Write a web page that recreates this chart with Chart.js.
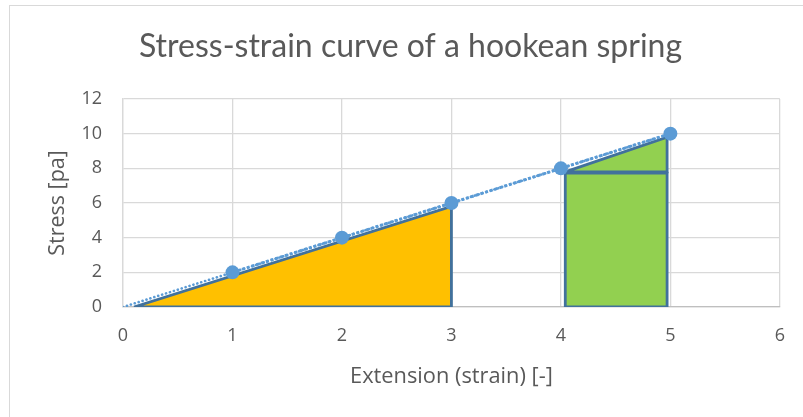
<!DOCTYPE html>
<html>
<head>
<meta charset="utf-8">
<script src="https://cdn.jsdelivr.net/npm/chart.js@4"></script>
<style>
  html, body { margin: 0; padding: 0; background: #fff; overflow: hidden; }
  #wrap { position: relative; width: 803px; height: 417px; }
  #frame { position: absolute; left: 9px; top: 5px; width: 810px; height: 430px;
           border: 1px solid #D9D9D9; pointer-events: none; }
</style>
</head>
<body>
<div id="wrap">
  <canvas id="chart" width="803" height="417"></canvas>
  <div id="frame"></div>
</div>
<script>
// Measured spring response: extension vs stress
const extension = [1, 2, 3, 4, 5];
const stress = [2, 4, 6, 8, 10];

// Linear trend line through the origin
const trendX = [0, 5];
const trendY = [0, 10];

// Work done stretching to 3 (triangle under the curve)
const workAX = [0.1, 3, 3, 0.1];
const workAY = [0, 5.8, 0, 0];

// Extra work from 4 to 5: rectangle plus triangle
const rectBX = [4.04, 4.04, 4.97, 4.97, 4.04];
const rectBY = [0, 7.72, 7.72, 0, 0];
const triBX = [4.04, 4.97, 4.97, 4.04];
const triBY = [7.8, 9.8, 7.8, 7.8];

// Axis ticks
const xTicks = [0, 1, 2, 3, 4, 5, 6];
const yTicks = [0, 2, 4, 6, 8, 10, 12];

const toPts = (xs, ys) => xs.map((x, i) => ({ x: x, y: ys[i] }));

const textColor = '#595959';
const gridColor = '#D9D9D9';
const outline = '#41719C';
const blue = '#5B9BD5';
const axisFont = '"Open Sans", Lato, sans-serif';

Chart.defaults.font.family = axisFont;
Chart.defaults.color = textColor;

// Closed polygon, filled inside its own outline
const shape = (data, fillColor) => ({
  data: data,
  borderColor: outline,
  borderWidth: 2.8,
  backgroundColor: fillColor,
  fill: 'shape',
  pointRadius: 0,
  pointHoverRadius: 0,
  tension: 0,
  borderJoinStyle: 'miter'
});

new Chart(document.getElementById('chart'), {
  type: 'line',
  data: {
    datasets: [
      {
        label: 'Stress',
        data: toPts(extension, stress),
        borderColor: blue,
        borderWidth: 3,
        borderDash: [3, 2],
        backgroundColor: blue,
        pointRadius: 7,
        pointBorderWidth: 0,
        pointBackgroundColor: blue,
        fill: false
      },
      {
        label: 'Trend',
        data: toPts(trendX, trendY),
        borderColor: blue,
        borderWidth: 2.6,
        borderDash: [0.1, 4],
        borderCapStyle: 'round',
        pointRadius: 0,
        fill: false
      },
      shape(toPts(workAX, workAY), '#FFC000'),
      shape(toPts(rectBX, rectBY), '#92D050'),
      shape(toPts(triBX, triBY), '#92D050')
    ]
  },
  options: {
    responsive: false,
    animation: false,
    events: [],
    layout: { padding: { left: 40, right: 22, top: 0, bottom: 0 } },
    plugins: {
      legend: { display: false },
      tooltip: { enabled: false },
      title: {
        display: true,
        text: 'Stress-strain curve of a hookean spring',
        color: textColor,
        font: { family: 'Lato, "Open Sans", sans-serif', size: 32, weight: 'normal' },
        padding: { top: 27.8, bottom: 32.8 }
      }
    },
    scales: {
      x: {
        type: 'linear',
        min: xTicks[0],
        max: xTicks[xTicks.length - 1],
        afterBuildTicks: (s) => { s.ticks = xTicks.map(v => ({ value: v })); },
        afterFit: (s) => { s.height = 110; },
        grid: { color: gridColor, lineWidth: 1.3, drawTicks: false },
        border: { color: '#BFBFBF', width: 1.3 },
        ticks: { padding: 18, font: { size: 18 }, color: textColor },
        title: {
          display: true,
          text: 'Extension (strain) [-]',
          color: textColor,
          font: { size: 21.8 },
          padding: { top: 0, bottom: 27 }
        }
      },
      y: {
        type: 'linear',
        min: yTicks[0],
        max: yTicks[yTicks.length - 1],
        afterBuildTicks: (s) => { s.ticks = yTicks.map(v => ({ value: v })); },
        afterFit: (s) => { s.width = 83; },
        grid: { color: gridColor, lineWidth: 1.3, drawTicks: false },
        border: { color: gridColor, width: 1.3 },
        ticks: { padding: 21, font: { size: 18 }, color: textColor },
        title: {
          display: true,
          text: 'Stress [pa]',
          color: textColor,
          font: { size: 21.5 },
          padding: { top: 5, bottom: 0 }
        }
      }
    }
  }
});
</script>
</body>
</html>
